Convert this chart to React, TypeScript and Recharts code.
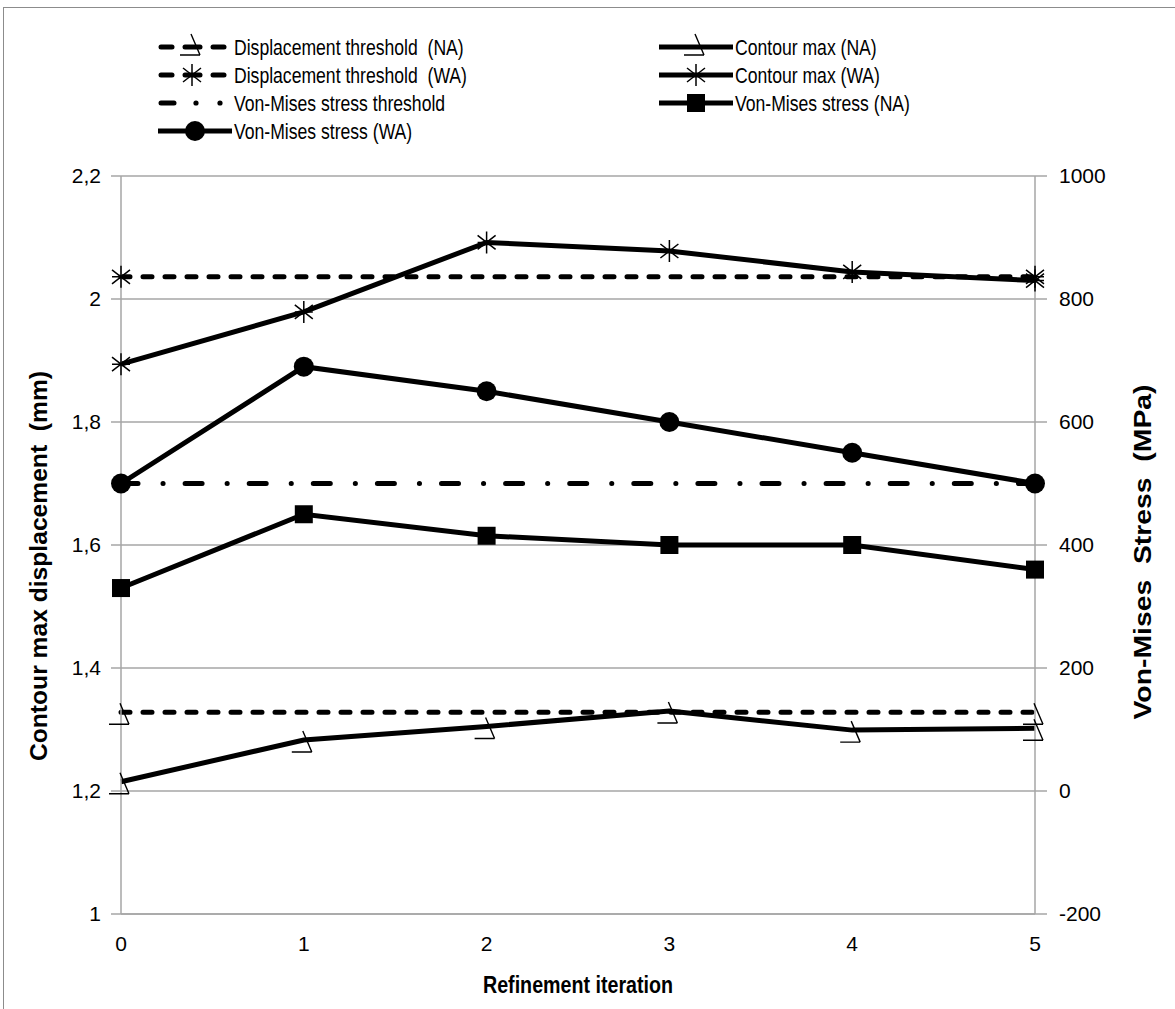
import React from "react";
import { CartesianGrid, Line, LineChart, XAxis, YAxis } from "recharts";

const iterations = ["0", "1", "2", "3", "4", "5"];
// displacement, left axis (mm)
const dispThresholdNA = [1.328, null, null, null, null, 1.328];
const dispThresholdWA = [2.036, null, null, null, null, 2.036];
const contourMaxNA = [1.215, 1.283, 1.305, 1.33, 1.299, 1.302];
const contourMaxWA = [1.894, 1.979, 2.092, 2.078, 2.044, 2.03];
// stress, right axis (MPa)
const vmThreshold = [500, null, null, null, null, 500];
const vmStressNA = [330, 450, 415, 400, 400, 360];
const vmStressWA = [500, 690, 650, 600, 550, 500];

const leftTicks = [1, 1.2, 1.4, 1.6, 1.8, 2, 2.2];
const rightTicks = [-200, 0, 200, 400, 600, 800, 1000];

const data = iterations.map((it, i) => ({
  it,
  dtNA: dispThresholdNA[i],
  dtWA: dispThresholdWA[i],
  cmNA: contourMaxNA[i],
  cmWA: contourMaxWA[i],
  vmT: vmThreshold[i],
  vmNA: vmStressNA[i],
  vmWA: vmStressWA[i],
}));

const FONT = '"Liberation Sans", Arial, sans-serif';
const GRAY = "#a6a6a6";
const W = 5;
const DASH = "9 13";
const DASHDOT = "17 25 0.1 22";

type Shape = "hook" | "star" | "square" | "circle" | "none";

function marker(shape: Shape, cx: number, cy: number) {
  switch (shape) {
    case "hook":
      return (
        <path
          d={`M${cx - 1},${cy - 9} L${cx + 8},${cy + 12} M${cx - 12},${cy + 12} L${cx + 8},${cy + 12}`}
          stroke="#000"
          strokeWidth={1.4}
          fill="none"
        />
      );
    case "star":
      return (
        <path
          d={`M${cx},${cy - 11} L${cx},${cy + 11} M${cx - 9},${cy - 7} L${cx + 9},${cy + 7} M${cx - 9},${cy + 7} L${cx + 9},${cy - 7} M${cx - 9},${cy} L${cx + 9},${cy}`}
          stroke="#000"
          strokeWidth={1.5}
          fill="none"
        />
      );
    case "square":
      return <rect x={cx - 9} y={cy - 9} width={18} height={18} fill="#000" />;
    case "circle":
      return <circle cx={cx} cy={cy} r={10} fill="#000" />;
    default:
      return null;
  }
}

const dotOf = (shape: Shape) => (props: any) => {
  const { cx, cy, index, value } = props;
  if (cx == null || cy == null || value == null || Number.isNaN(cy)) return <g key={index} />;
  return <g key={index}>{marker(shape, cx, cy)}</g>;
};

const legendItems = [
  { name: "Displacement threshold  (NA)", shape: "hook" as Shape, dash: DASH, col: 0, row: 0 },
  { name: "Displacement threshold  (WA)", shape: "star" as Shape, dash: DASH, col: 0, row: 1 },
  { name: "Von-Mises stress threshold", shape: "none" as Shape, dash: "dd", col: 0, row: 2 },
  { name: "Von-Mises stress (WA)", shape: "circle" as Shape, dash: "", col: 0, row: 3 },
  { name: "Contour max (NA)", shape: "hook" as Shape, dash: "", col: 1, row: 0 },
  { name: "Contour max (WA)", shape: "star" as Shape, dash: "", col: 1, row: 1 },
  { name: "Von-Mises stress (NA)", shape: "square" as Shape, dash: "", col: 1, row: 2 },
];

function LegendIcon({ x, y, shape, dash }: { x: number; y: number; shape: Shape; dash: string }) {
  if (dash === DASH) {
    return (
      <g>
        <line x1={x + 3} y1={y} x2={x + 14} y2={y} stroke="#000" strokeWidth={W} strokeLinecap="round" />
        <line x1={x + 55} y1={y} x2={x + 66} y2={y} stroke="#000" strokeWidth={W} strokeLinecap="round" />
        <line x1={x + 27} y1={y} x2={x + 42} y2={y} stroke="#000" strokeWidth={W} strokeLinecap="round" />
        {shape === "hook" ? marker("hook", x + 34, y - 4) : marker("star", x + 34, y)}
      </g>
    );
  }
  if (dash === "dd") {
    return (
      <g>
        <line x1={x + 3} y1={y} x2={x + 16} y2={y} stroke="#000" strokeWidth={W} strokeLinecap="round" />
        <circle cx={x + 38} cy={y} r={2.6} fill="#000" />
        <circle cx={x + 62} cy={y} r={2.6} fill="#000" />
      </g>
    );
  }
  return (
    <g>
      <line x1={x} y1={y} x2={x + 74} y2={y} stroke="#000" strokeWidth={W} />
      {marker(shape, x + 37, shape === "hook" ? y - 4 : y)}
    </g>
  );
}

function LegendBox() {
  return (
    <svg
      width={1175}
      height={160}
      style={{ position: "absolute", left: 0, top: 0, pointerEvents: "none", overflow: "visible" }}
    >
      {legendItems.map((l) => {
        const x = l.col === 0 ? 158 : 659;
        const y = 47 + l.row * 28;
        return (
          <g key={l.name}>
            <LegendIcon x={x} y={y} shape={l.shape} dash={l.dash} />
            <text
              transform={`translate(${x + 76} ${y}) scale(0.8 1)`}
              dominantBaseline="central"
              fontFamily={FONT}
              fontSize={22}
              fill="#000"
              style={{ whiteSpace: "pre" }}
            >
              {l.name}
            </text>
          </g>
        );
      })}
    </svg>
  );
}

const fmt = (v: number) => String(v).replace(".", ",");

const titleProps = {
  fontFamily: FONT,
  fontSize: 23,
  fontWeight: "bold" as const,
  fill: "#000",
  textAnchor: "middle" as const,
  dominantBaseline: "central" as const,
  lengthAdjust: "spacingAndGlyphs" as const,
  style: { whiteSpace: "pre" as const },
};

export default function App() {
  return (
    <div style={{ position: "absolute", left: 0, top: 0, width: 1175, height: 1009, background: "#fff" }}>
      <div
        style={{
          position: "absolute",
          left: 3,
          top: 7,
          width: 1180,
          height: 1010,
          borderLeft: "1px solid #8c8c8c",
          borderTop: "1px solid #8c8c8c",
        }}
      />
      <LineChart
        width={1175}
        height={1009}
        data={data}
        margin={{ top: 176, right: 0, bottom: 0, left: 0 }}
        style={{ fontFamily: FONT }}
      >
        <CartesianGrid yAxisId="l" vertical={false} stroke={GRAY} strokeWidth={1.5} />
        <XAxis
          dataKey="it"
          height={95}
          tickLine={false}
          tickSize={0}
          tickMargin={22}
          axisLine={{ stroke: GRAY, strokeWidth: 1.5 }}
          tick={{ fill: "#000", fontSize: 21, fontFamily: FONT }}
          label={{
            content: () => (
              <text x={578} y={985} textLength={190} {...titleProps}>
                Refinement iteration
              </text>
            ),
          }}
        />
        <YAxis
          yAxisId="l"
          width={121}
          domain={[1, 2.2]}
          ticks={leftTicks}
          tickFormatter={fmt}
          tickSize={10}
          tickMargin={10}
          tickLine={{ stroke: GRAY, strokeWidth: 1.5 }}
          axisLine={{ stroke: GRAY, strokeWidth: 1.5 }}
          tick={{ fill: "#000", fontSize: 21, fontFamily: FONT }}
          label={{
            content: () => (
              <text x={0} y={0} transform="translate(39 566) rotate(-90)" textLength={390} {...titleProps}>
                Contour max displacement  (mm)
              </text>
            ),
          }}
        />
        <YAxis
          yAxisId="r"
          orientation="right"
          width={140}
          domain={[-200, 1000]}
          ticks={rightTicks}
          tickSize={12}
          tickMargin={12}
          tickLine={{ stroke: GRAY, strokeWidth: 1.5 }}
          axisLine={{ stroke: GRAY, strokeWidth: 1.5 }}
          tick={{ fill: "#000", fontSize: 21, fontFamily: FONT }}
          label={{
            content: () => (
              <text x={0} y={0} transform="translate(1143 552) rotate(-90)" textLength={335} {...titleProps}>
                Von-Mises  Stress  (MPa)
              </text>
            ),
          }}
        />
        <Line
          yAxisId="l"
          dataKey="dtWA"
          connectNulls
          stroke="#000"
          strokeWidth={W}
          strokeDasharray={DASH}
          strokeLinecap="round"
          dot={dotOf("star")}
          isAnimationActive={false}
        />
        <Line
          yAxisId="l"
          dataKey="dtNA"
          connectNulls
          stroke="#000"
          strokeWidth={W}
          strokeDasharray={DASH}
          strokeLinecap="round"
          dot={dotOf("hook")}
          isAnimationActive={false}
        />
        <Line
          yAxisId="r"
          dataKey="vmT"
          connectNulls
          stroke="#000"
          strokeWidth={W}
          strokeDasharray={DASHDOT}
          strokeLinecap="round"
          dot={false}
          isAnimationActive={false}
        />
        <Line yAxisId="l" dataKey="cmNA" stroke="#000" strokeWidth={W} dot={dotOf("hook")} isAnimationActive={false} />
        <Line yAxisId="l" dataKey="cmWA" stroke="#000" strokeWidth={W} dot={dotOf("star")} isAnimationActive={false} />
        <Line yAxisId="r" dataKey="vmNA" stroke="#000" strokeWidth={W} dot={dotOf("square")} isAnimationActive={false} />
        <Line yAxisId="r" dataKey="vmWA" stroke="#000" strokeWidth={W} dot={dotOf("circle")} isAnimationActive={false} />
      </LineChart>
      <LegendBox />
    </div>
  );
}
